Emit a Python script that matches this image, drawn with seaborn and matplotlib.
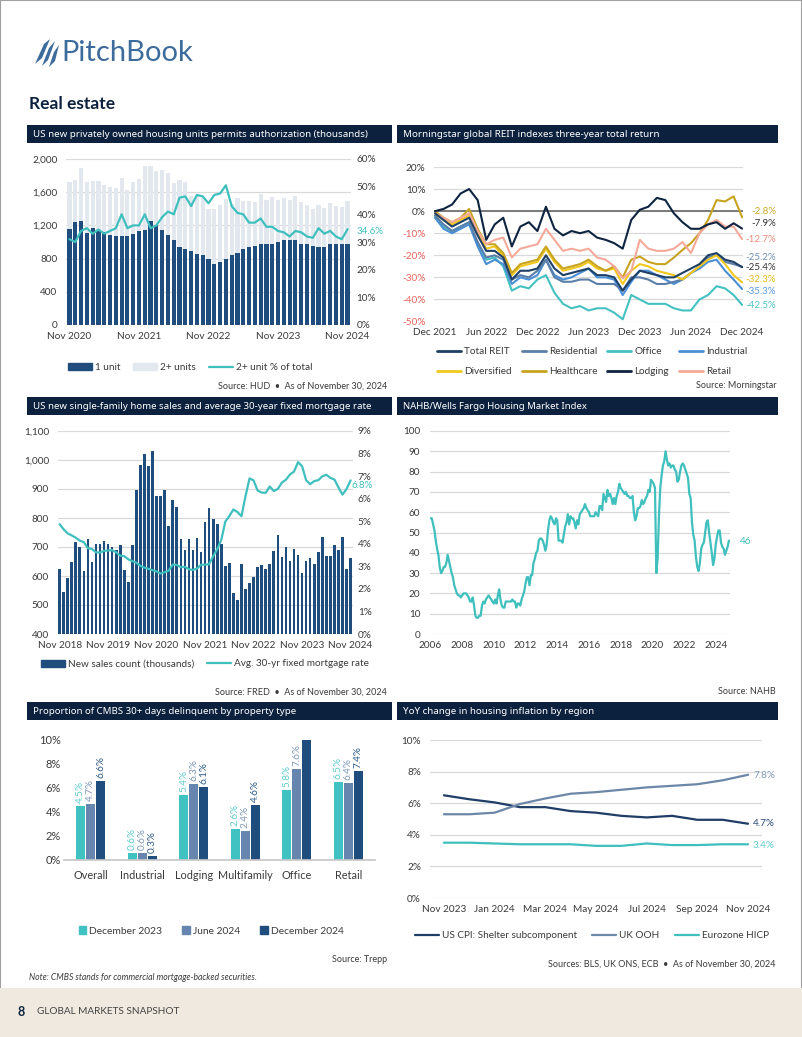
import numpy as np
import pandas as pd
import matplotlib
matplotlib.use("Agg")
import matplotlib.pyplot as plt
import seaborn as sns
from matplotlib.patches import Rectangle, Polygon, Patch
from matplotlib.lines import Line2D

# ---- data ----
# housing permits, Nov 2020 .. Nov 2024 (thousands)
permit_ticks = ["Nov 2020", "Nov 2021", "Nov 2022", "Nov 2023", "Nov 2024"]
one_unit = [1160, 1240, 1250, 1110, 1170, 1140, 1120, 1080, 1070, 1070,
            1070, 1100, 1130, 1140, 1250, 1200, 1140, 1080, 1020, 940,
            920, 890, 860, 840, 790, 740, 760, 800, 840, 870,
            910, 940, 950, 970, 980, 980, 1000, 1020, 1030, 1030,
            980, 970, 950, 940, 940, 970, 970, 970, 970]
total_units = [1720, 1750, 1890, 1720, 1740, 1740, 1690, 1660, 1650, 1770,
               1630, 1720, 1760, 1910, 1910, 1860, 1870, 1830, 1710, 1750,
               1720, 1550, 1560, 1530, 1400, 1400, 1450, 1520, 1460, 1530,
               1500, 1500, 1480, 1580, 1510, 1540, 1510, 1530, 1510, 1560,
               1480, 1440, 1400, 1450, 1410, 1470, 1430, 1420, 1500]
multi_pct = [31, 30, 34, 35, 33, 34.5, 33, 34, 35, 40,
             35, 36, 36, 40, 35, 36, 39, 41, 40, 46,
             46.5, 43, 47, 46.5, 44, 47, 47.5, 50.5, 43, 40.5,
             40, 37, 37, 38.5, 35.5, 35.5, 34, 33.5, 32, 34,
             33.5, 32, 31.5, 35, 33, 34, 32, 31, 34.6]

# REIT three-year total return (%), monthly Dec 2021 .. Dec 2024
reit_ticks = ["Dec 2021", "Jun 2022", "Dec 2022", "Jun 2023", "Dec 2023", "Jun 2024", "Dec 2024"]
total_reit = [-1, -4, -7, -5, -3, -11, -18, -18, -21, -31, -27, -27, -26, -20, -26, -29, -28, -27, -26, -29,
              -29, -30, -36, -31, -27, -28, -29, -30, -30, -28, -26, -24, -20, -19, -22, -23, -25.4]
residential = [-2, -6, -9, -7, -5, -14, -21, -20, -22, -31, -29, -30, -27, -22, -30, -32, -32, -31, -31, -33,
               -33, -33, -36, -30, -30, -31, -33, -33, -32, -31, -28, -25, -21, -20, -23, -24, -25.2]
office = [-2, -7, -9, -7, -5, -15, -22, -21, -25, -36, -34, -35, -31, -29, -37, -42, -44, -43, -45, -44,
          -44, -46, -49, -38, -40, -42, -42, -42, -44, -45, -45, -40, -38, -34, -35, -38, -42.5]
industrial = [-3, -8, -10, -8, -6, -16, -24, -22, -24, -33, -30, -31, -29, -22, -29, -31, -30, -28, -26, -30,
              -30, -31, -38, -32, -27, -27, -29, -31, -33, -31, -28, -26, -23, -22, -27, -31, -35.3]
diversified = [-1, -4, -6, -4, -2, -10, -17, -16, -20, -29, -25, -24, -23, -17, -23, -27, -26, -25, -23, -26,
               -27, -26, -33, -27, -24, -25, -27, -28, -29, -31, -28, -25, -22, -20, -24, -29, -32.3]
healthcare = [0, -3, -5, -3, 1, -8, -15, -15, -19, -28, -24, -23, -22, -16, -22, -26, -25, -24, -22, -25,
              -27, -25, -30, -22, -20.6, -23, -24, -24, -21, -17.6, -14.5, -10, -4, 5, 4.4, 6.7, -2.8]
lodging = [0, 1, 3, 8, 10, 5, -13, -6, -3, -16, -7, -5, -9, 2, -8, -11, -9, -10, -9, -12,
           -13, -14.5, -17, -4, 0.6, 2, 6, 5, -1, -5, -8, -8, -6, -5, -8, -5.5, -7.9]
retail = [-1, -3, -5, -3, -1, -9, -15, -13, -12, -21, -17, -16, -15, -8, -13, -18, -17, -18, -17, -21,
          -22, -25, -30.5, -27, -13, -17, -18, -18, -17, -14, -19, -10, -6, -4, -7, -7, -12.7]

# new single-family home sales (thousands) and 30-yr mortgage rate, Nov 2018 .. Nov 2024
sales_ticks = ["Nov 2018", "Nov 2019", "Nov 2020", "Nov 2021", "Nov 2022", "Nov 2023", "Nov 2024"]
home_sales = [624, 545, 593, 647, 717, 701, 617, 728, 647, 711,
              711, 721, 711, 699, 690, 706, 620, 578, 708, 895,
              983, 1022, 978, 1031, 876, 876, 895, 772, 861, 837,
              726, 689, 726, 691, 730, 683, 786, 833, 798, 779,
              710, 634, 646, 540, 517, 641, 554, 575, 595, 630,
              637, 623, 641, 685, 740, 664, 699, 651, 692, 671,
              609, 652, 663, 641, 682, 736, 669, 669, 706, 690,
              736, 625, 662]
mortgage = [4.87, 4.64,
            4.46, 4.37, 4.27, 4.14, 4.07, 3.80, 3.77, 3.62, 3.61, 3.69, 3.70, 3.72,
            3.62, 3.47, 3.45, 3.31, 3.23, 3.16, 3.02, 2.94, 2.89, 2.83, 2.77, 2.68,
            2.74, 2.81, 3.08, 3.06, 2.96, 2.98, 2.87, 2.84, 2.90, 3.07, 3.07, 3.10,
            3.45, 3.76, 4.17, 4.98, 5.23, 5.52, 5.41, 5.22, 6.11, 6.90, 6.81, 6.36,
            6.27, 6.26, 6.54, 6.34, 6.43, 6.71, 6.84, 7.07, 7.20, 7.62, 7.44, 6.82,
            6.64, 6.78, 6.82, 6.99, 7.06, 6.92, 6.85, 6.50, 6.18, 6.43, 6.81]

# NAHB/Wells Fargo HMI, monthly Jan 2006 .. Nov 2024
nahb = [57, 57, 54, 51, 46, 42, 39, 33, 30, 31, 33, 33,
        35, 39, 36, 33, 30, 28, 24, 22, 20, 19, 19, 18,
        19, 20, 20, 20, 19, 18, 16, 16, 18, 14, 9, 8,
        8, 9, 9, 14, 16, 15, 17, 18, 19, 18, 17, 16,
        15, 17, 15, 19, 22, 17, 14, 13, 13, 16, 16, 16,
        16, 16, 17, 16, 16, 13, 15, 15, 14, 17, 19, 21,
        25, 28, 28, 24, 29, 29, 35, 37, 40, 41, 46, 47,
        47, 46, 44, 41, 44, 51, 56, 58, 57, 55, 54, 57,
        56, 46, 46, 46, 45, 49, 53, 55, 59, 54, 58, 57,
        57, 55, 52, 56, 54, 59, 60, 61, 62, 64, 62, 61,
        60, 58, 58, 58, 58, 60, 59, 58, 63, 63, 61, 69,
        67, 65, 71, 68, 69, 67, 64, 67, 64, 68, 70, 74,
        72, 71, 70, 69, 70, 68, 68, 67, 67, 68, 60, 56,
        58, 62, 62, 63, 66, 64, 65, 67, 68, 71, 70, 76,
        75, 74, 72, 30, 37, 58, 72, 78, 83, 85, 90, 86,
        83, 84, 82, 83, 83, 81, 80, 75, 76, 80, 83, 84,
        83, 81, 79, 77, 69, 67, 55, 49, 46, 38, 33, 31,
        35, 42, 44, 45, 50, 55, 56, 50, 45, 40, 34, 37,
        44, 48, 51, 51, 45, 43, 42, 39, 41, 43, 46]

# CMBS delinquency (%)
cmbs_types = ["Overall", "Industrial", "Lodging", "Multifamily", "Office", "Retail"]
cmbs_periods = ["December 2023", "June 2024", "December 2024"]
cmbs_dec23 = [4.5, 0.6, 5.4, 2.6, 5.8, 6.5]
cmbs_jun24 = [4.7, 0.6, 6.3, 2.4, 7.6, 6.4]
cmbs_dec24 = [6.6, 0.3, 6.1, 4.6, 11.0, 7.4]

# housing inflation YoY (%), Nov 2023 .. Nov 2024
infl_ticks = ["Nov 2023", "Jan 2024", "Mar 2024", "May 2024", "Jul 2024", "Sep 2024", "Nov 2024"]
us_shelter = [6.5, 6.25, 6.05, 5.75, 5.75, 5.5, 5.4, 5.2, 5.1, 5.2, 4.95, 4.95, 4.7]
uk_ooh = [5.3, 5.3, 5.4, 5.95, 6.3, 6.6, 6.7, 6.85, 7.0, 7.1, 7.2, 7.45, 7.8]
ez_hicp = [3.5, 3.5, 3.45, 3.4, 3.4, 3.4, 3.3, 3.3, 3.45, 3.35, 3.35, 3.4, 3.4]

# ---- style ----
NAVY = "#1f4d7e"
LIGHT = "#e3e8ee"
TEAL = "#3fbfbd"
HEAD = "#0c213d"
GRID = "#d9d9d9"
TXT = "#3a3a3a"

sns.set_theme(style="white")
plt.rcParams["font.family"] = ["Lato", "DejaVu Sans"]

W, H = 802, 1037
fig = plt.figure(figsize=(W / 100, H / 100), dpi=100)


def box(x0, y0, x1, y1):
    return fig.add_axes([x0 / W, 1 - y1 / H, (x1 - x0) / W, (y1 - y0) / H])


def put(x, y, s, **kw):
    kw.setdefault("va", "center")
    return fig.text(x / W, 1 - y / H, s, **kw)


def rect(x0, y0, x1, y1, color):
    fig.add_artist(Rectangle((x0 / W, 1 - y1 / H), (x1 - x0) / W, (y1 - y0) / H,
                             transform=fig.transFigure, facecolor=color, edgecolor="none"))


def tidy(ax, grid=True):
    for s in ax.spines.values():
        s.set_visible(False)
    ax.tick_params(length=0, labelsize=7.2, labelcolor=TXT)
    ax.set_xlabel("")
    ax.set_ylabel("")
    if grid:
        ax.yaxis.grid(True, color=GRID, lw=0.9)
        ax.set_axisbelow(True)


def legend(handles, labels, cx, cy, ncol, fs=7.2, **kw):
    fig.legend(handles, labels, loc="center", bbox_to_anchor=(cx / W, 1 - cy / H), ncol=ncol,
               frameon=False, fontsize=fs, labelcolor=TXT, borderaxespad=0, borderpad=0, **kw)


titles = []


def title_bar(x0, x1, y0, text, width):
    rect(x0, y0, x1, y0 + 18, HEAD)
    t = put(x0 + 6, y0 + 9.5, text, color="white", fontsize=9, weight="bold",
            family=["Noto Sans", "DejaVu Sans"], fontstretch="condensed")
    titles.append((t, width))


# ---- header / footer ----
fig.add_artist(Rectangle((0, 0), 1, 1, transform=fig.transFigure, fill=False,
                         edgecolor="#a0a0a0", lw=1.5))
for pts in ([(35, 64), (44, 44), (50, 39), (42, 58)],
            [(42, 66), (49, 48), (55, 41), (48, 60)],
            [(49, 67), (54, 52), (59, 45), (55, 61)]):
    fig.add_artist(Polygon([(px / W, 1 - py / H) for px, py in pts], closed=True,
                           transform=fig.transFigure, facecolor="#3d6b9c", edgecolor="none"))
put(61, 53, "PitchBook", fontsize=21, color="#3d6b9c")
put(29, 104, "Real estate", fontsize=12.5, weight="bold", color=HEAD)
rect(0, 988, W, H, "#efe9df")
put(17, 1012, "8", fontsize=9, weight="bold", color=HEAD)
put(37, 1012, "GLOBAL MARKETS SNAPSHOT", fontsize=7.2, color="#444444")
put(29, 977, "Note: CMBS stands for commercial mortgage-backed securities.", fontsize=6.2,
    style="italic", color=TXT)

# ---- panel 1: permits ----
title_bar(27, 392, 125, "US new privately owned housing units permits authorization (thousands)", 334)
ax1 = box(66, 159, 351, 325)
xs = np.arange(len(one_unit))
sns.barplot(x=xs, y=total_units, color=LIGHT, width=0.72, saturation=1, linewidth=0, ax=ax1)
sns.barplot(x=xs, y=one_unit, color=NAVY, width=0.72, saturation=1, linewidth=0, ax=ax1)
tidy(ax1)
ax1.set_ylim(0, 2000)
ax1.set_yticks(range(0, 2001, 400))
ax1.set_yticklabels([f"{v:,}" for v in range(0, 2001, 400)])
ax1.set_xticks([0, 12, 24, 36, 48])
ax1.set_xticklabels(permit_ticks)
ax1.set_xlim(-0.6, 48.6)
ax1.tick_params(axis="y", pad=6)
ax1.tick_params(axis="x", pad=5)
ax1b = ax1.twinx()
sns.lineplot(x=xs, y=multi_pct, color=TEAL, lw=1.6, ax=ax1b)
tidy(ax1b, grid=False)
ax1b.set_ylim(0, 60)
ax1b.set_yticks(range(0, 61, 10))
ax1b.set_yticklabels([f"{v}%" for v in range(0, 61, 10)])
ax1b.tick_params(axis="y", pad=4)
ax1b.set_xlim(-0.6, 48.6)
put(357, 231, "34.6%", fontsize=7, color=TEAL, ha="left")
legend([Patch(color=NAVY), Patch(color=LIGHT), Line2D([], [], color=TEAL, lw=1.6)],
       ["1 unit", "2+ units", "2+ unit % of total"], 190, 368, 3,
       handlelength=2.4, columnspacing=1.3, handletextpad=0.3)
put(387, 386, "Source: HUD  \u2022  As of November 30, 2024", fontsize=6.5, color=TXT, ha="right")

# ---- panel 2: REIT returns ----
title_bar(397, 778, 125, "Morningstar global REIT indexes three-year total return", 256)
ax2 = box(434, 167, 743, 321.5)
months = np.arange(len(total_reit))
reit = pd.DataFrame({
    "Office": office, "Industrial": industrial, "Residential": residential,
    "Diversified": diversified, "Healthcare": healthcare, "Retail": retail,
    "Total REIT": total_reit, "Lodging": lodging}, index=months)
reit_long = reit.reset_index().melt(id_vars="index", var_name="index_name", value_name="ret")
reit_colors = {"Total REIT": "#1e3f66", "Residential": "#5b7ea8", "Office": "#45c1c1",
               "Industrial": "#4a8fd6", "Diversified": "#f2c81e", "Healthcare": "#c7a420",
               "Lodging": "#0e2440", "Retail": "#f5a99a"}
sns.lineplot(data=reit_long, x="index", y="ret", hue="index_name", palette=reit_colors,
             hue_order=list(reit.columns), lw=1.5, legend=False, ax=ax2)
tidy(ax2)
ax2.axhline(0, color="#7a7a7a", lw=1.4, zorder=1)
ax2.set_ylim(-50, 20)
ax2.set_yticks(range(-50, 21, 10))
ax2.set_yticklabels([f"{v}%" for v in range(-50, 21, 10)])
for lab, v in zip(ax2.get_yticklabels(), range(-50, 21, 10)):
    if v < 0:
        lab.set_color("#e8625a")
ax2.set_xticks(range(0, 37, 6))
ax2.set_xticklabels(reit_ticks)
ax2.set_xlim(-0.12, 36.1)
ax2.tick_params(axis="y", pad=6)
ax2.tick_params(axis="x", pad=5)
end_labels = [("-2.8%", 212, "#c9a829"), ("-7.9%", 224, "#333333"), ("-12.7%", 239, "#f08a7a"),
              ("-25.2%", 257, "#6f8fb3"), ("-25.4%", 267, "#333333"), ("-32.3%", 280, "#e8b820"),
              ("-35.3%", 291, "#5b9ad8"), ("-42.5%", 305, "#4cc4c4")]
for s, y, c in end_labels:
    put(776, y, s, fontsize=7, color=c, ha="right")
order = ["Total REIT", "Diversified", "Residential", "Healthcare", "Office", "Lodging", "Industrial", "Retail"]
legend([Line2D([], [], color=reit_colors[k], lw=2) for k in order], order, 592, 362, 4,
       handlelength=2.4, columnspacing=1.0, handletextpad=0.3, labelspacing=1.1)
put(776, 386, "Source: Morningstar", fontsize=6.5, color=TXT, ha="right")

# ---- panel 3: new home sales ----
title_bar(27, 392, 397, "US new single-family home sales and average 30-year fixed mortgage rate", 338)
ax3 = box(58, 431, 353, 634)
xs3 = np.arange(len(home_sales))
sns.barplot(x=xs3, y=home_sales, color=NAVY, width=0.66, saturation=1, linewidth=0, ax=ax3)
tidy(ax3)
ax3.set_ylim(400, 1100)
ax3.set_yticks(range(400, 1101, 100))
ax3.set_yticklabels([f"{v:,}" for v in range(400, 1101, 100)])
ax3.set_xticks(range(0, 73, 12))
ax3.set_xticklabels(sales_ticks)
ax3.set_xlim(-0.4, 72.6)
ax3.tick_params(axis="y", pad=6.5)
ax3.tick_params(axis="x", pad=5)
ax3b = ax3.twinx()
sns.lineplot(x=xs3, y=mortgage, color=TEAL, lw=1.6, ax=ax3b)
tidy(ax3b, grid=False)
ax3b.set_ylim(0, 9)
ax3b.set_yticks(range(0, 10))
ax3b.set_yticklabels([f"{v}%" for v in range(0, 10)])
ax3b.tick_params(axis="y", pad=3.5)
ax3b.set_xlim(-0.4, 72.6)
put(351, 486, "6.8%", fontsize=7, color=TEAL, ha="left")
legend([Patch(color=NAVY), Line2D([], [], color=TEAL, lw=1.6)],
       ["New sales count (thousands)", "Avg. 30-yr fixed mortgage rate"], 205, 664, 2,
       handlelength=2.4, columnspacing=1.3, handletextpad=0.3)
put(387, 692, "Source: FRED  \u2022  As of November 30, 2024", fontsize=6.5, color=TXT, ha="right")

# ---- panel 4: NAHB ----
title_bar(397, 778, 397, "NAHB/Wells Fargo Housing Market Index", 186)
ax4 = box(430, 431, 730, 634)
years = 2006 + np.arange(len(nahb)) / 12
sns.lineplot(x=years, y=nahb, color=TEAL, lw=1.6, ax=ax4)
tidy(ax4)
ax4.set_ylim(0, 100)
ax4.set_yticks(range(0, 101, 10))
ax4.set_xticks(range(2006, 2025, 2))
ax4.set_xlim(2005.97, 2024.9)
ax4.tick_params(axis="y", pad=7)
ax4.tick_params(axis="x", pad=5)
put(740, 542, "46", fontsize=7.2, color=TEAL, ha="left")
put(776, 692, "Source: NAHB", fontsize=6.5, color=TXT, ha="right")

# ---- panel 5: CMBS delinquency ----
title_bar(27, 392, 702, "Proportion of CMBS 30+ days delinquent by property type", 262)
ax5 = box(64, 740, 375, 860)
cmbs = pd.DataFrame({"type": cmbs_types * 3,
                     "period": np.repeat(cmbs_periods, len(cmbs_types)),
                     "value": cmbs_dec23 + cmbs_jun24 + cmbs_dec24})
bar_colors = ["#40c2c2", "#6686b0", NAVY]
label_colors = ["#5fcccc", "#7f97b8", "#2d5a88"]
sns.barplot(data=cmbs, x="type", y="value", hue="period", palette=bar_colors, width=0.585,
            gap=0.1, saturation=1, linewidth=0, legend=False, ax=ax5)
tidy(ax5, grid=False)
ax5.spines["bottom"].set_visible(True)
ax5.spines["bottom"].set_color("#c8c8c8")
ax5.set_ylim(0, 10)
ax5.set_yticks(range(0, 11, 2))
ax5.set_yticklabels([f"{v}%" for v in range(0, 11, 2)])
ax5.set_xlim(-0.52, 5.52)
ax5.tick_params(axis="y", labelsize=8.0, pad=2)
ax5.tick_params(axis="x", labelsize=7.8, pad=7)
for cont, c in zip(ax5.containers, label_colors):
    for bar, v in zip(cont, cont.datavalues):
        if v <= 10:
            ax5.text(bar.get_x() + bar.get_width() / 2, v + 0.25, f"{v:.1f}%", rotation=90,
                     ha="center", va="bottom", color=c, fontsize=7.2)
legend([Patch(color=c) for c in bar_colors], cmbs_periods, 211, 931, 3, fs=7.4,
       handlelength=0.7, handleheight=0.7, columnspacing=2.0, handletextpad=0.3)
put(387, 959, "Source: Trepp", fontsize=6.5, color=TXT, ha="right")

# ---- panel 6: housing inflation ----
title_bar(397, 778, 702, "YoY change in housing inflation by region", 191)
ax6 = box(430, 740, 762, 898)
mx = np.arange(len(us_shelter))
infl_colors = ["#1f3d66", "#6c87a8", TEAL]
for series, c in zip([us_shelter, uk_ooh, ez_hicp], infl_colors):
    sns.lineplot(x=mx, y=series, color=c, lw=1.6, ax=ax6)
tidy(ax6)
ax6.set_ylim(0, 10)
ax6.set_yticks(range(0, 11, 2))
ax6.set_yticklabels([f"{v}%" for v in range(0, 11, 2)])
ax6.set_xticks(range(0, 13, 2))
ax6.set_xticklabels(infl_ticks)
ax6.set_xlim(-0.55, 12.55)
ax6.tick_params(axis="y", pad=6.5)
ax6.tick_params(axis="x", pad=5)
put(753, 775, "7.8%", fontsize=7.2, color="#7f97b8", ha="left")
put(753, 824, "4.7%", fontsize=7.2, color="#2d4f7c", ha="left")
put(753, 845, "3.4%", fontsize=7.2, color="#5fcccc", ha="left")
legend([Line2D([], [], color=c, lw=1.6) for c in infl_colors],
       ["US CPI: Shelter subcomponent", "UK OOH", "Eurozone HICP"], 592, 936, 3,
       handlelength=2.4, columnspacing=1.5, handletextpad=0.3)
put(776, 964, "Sources: BLS, UK ONS, ECB  \u2022  As of November 30, 2024", fontsize=6.5,
    color=TXT, ha="right")

# fit the title bar texts to the widths in the reference
fig.canvas.draw()
renderer = fig.canvas.get_renderer()
for t, w in titles:
    t.set_fontsize(9 * w / t.get_window_extent(renderer).width)

fig.savefig("out.png", dpi=100)
